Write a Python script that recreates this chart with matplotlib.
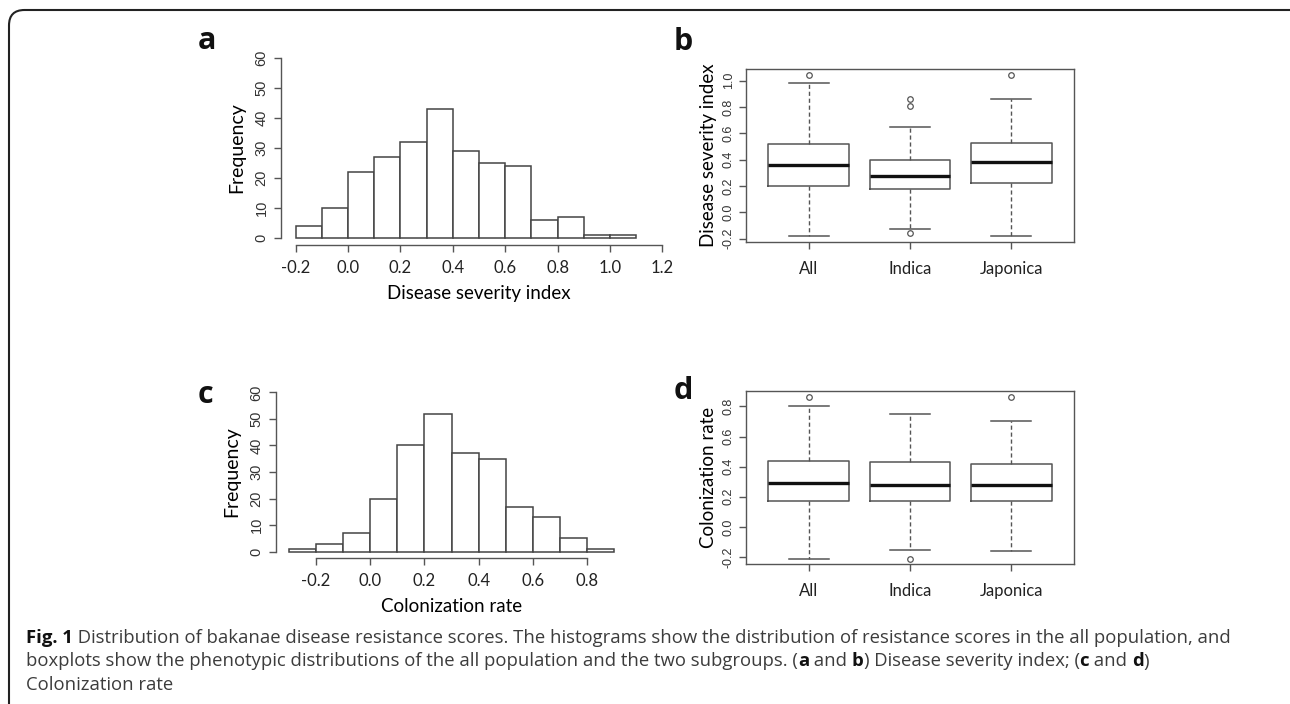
import matplotlib
matplotlib.use("Agg")
import matplotlib.pyplot as plt
from matplotlib.patches import FancyBboxPatch

# ---- data ----
dsi_edges = [-0.2, -0.1, 0.0, 0.1, 0.2, 0.3, 0.4, 0.5, 0.6, 0.7, 0.8, 0.9, 1.0, 1.1]
dsi_counts = [4, 10, 22, 27, 32, 43, 29, 25, 24, 6, 7, 1, 1]
dsi_xticks = [-0.2, 0.0, 0.2, 0.4, 0.6, 0.8, 1.0, 1.2]

col_edges = [-0.3, -0.2, -0.1, 0.0, 0.1, 0.2, 0.3, 0.4, 0.5, 0.6, 0.7, 0.8, 0.9]
col_counts = [1, 3, 7, 20, 40, 52, 37, 35, 17, 13, 5, 1]
col_xticks = [-0.2, 0.0, 0.2, 0.4, 0.6, 0.8]

freq_ticks = [0, 10, 20, 30, 40, 50, 60]

groups = ["All", "Indica", "Japonica"]
# whislo, q1, med, q3, whishi, fliers
dsi_box = [(-0.18, 0.20, 0.36, 0.52, 0.98, [1.04]),
           (-0.13, 0.18, 0.28, 0.40, 0.65, [0.81, 0.86, -0.16]),
           (-0.18, 0.22, 0.38, 0.525, 0.86, [1.04])]
col_box = [(-0.21, 0.175, 0.29, 0.435, 0.80, [0.86]),
           (-0.15, 0.175, 0.275, 0.43, 0.75, [-0.21]),
           (-0.16, 0.17, 0.28, 0.415, 0.70, [0.86])]
box_yticks_dsi = [-0.2, 0.0, 0.2, 0.4, 0.6, 0.8, 1.0]
box_yticks_col = [-0.2, 0.0, 0.2, 0.4, 0.6, 0.8]

caption_lines = [
    [("Fig. 1", True), (" Distribution of bakanae disease resistance scores. The histograms show the distribution of resistance scores in the all population, and", False)],
    [("boxplots show the phenotypic distributions of the all population and the two subgroups. (", False), ("a", True), (" and ", False),
     ("b", True), (") Disease severity index; (", False), ("c", True), (" and ", False), ("d", True), (")", False)],
    [("Colonization rate", False)],
]

W, H = 1290, 704
fig = plt.figure(figsize=(W / 100, H / 100), dpi=100)
LBL = ["Lato", "DejaVu Sans"]
TCK = ["Liberation Sans", "DejaVu Sans"]
GRAY = "#555555"


def px_axes(l, r, t, b):
    return fig.add_axes([l / W, 1 - b / H, (r - l) / W, (b - t) / H])


def histogram(ax, edges, counts, xticks, xlim, xlabel):
    ax.bar(edges[:-1], counts, width=[e2 - e1 for e1, e2 in zip(edges[:-1], edges[1:])],
           align="edge", color="white", edgecolor="#444444", linewidth=1.1)
    ax.set_xlim(*xlim)
    ax.set_ylim(-2.4, 62.4)
    for s in ["top", "right"]:
        ax.spines[s].set_visible(False)
    for s in ["left", "bottom"]:
        ax.spines[s].set_color(GRAY)
        ax.spines[s].set_linewidth(1.0)
    ax.spines["left"].set_bounds(0, 60)
    ax.spines["bottom"].set_bounds(xticks[0], xticks[-1])
    ax.set_xticks(xticks)
    ax.set_xticklabels([f"{v:.1f}" for v in xticks], fontsize=12, family=LBL, color="#222222")
    ax.set_yticks(freq_ticks)
    ax.set_yticklabels([str(v) for v in freq_ticks], rotation=90, va="center",
                       fontsize=10.5, family=TCK, color="#333333")
    ax.tick_params(axis="both", length=5, color=GRAY, width=1.0)
    ax.tick_params(axis="x", pad=6)
    ax.tick_params(axis="y", pad=4)
    ax.set_ylabel("Frequency", fontsize=14, family=LBL, labelpad=7)
    ax.set_xlabel(xlabel, fontsize=13.5, family=LBL, labelpad=6)


def boxplot(ax, box, yticks, ylim, ylabel):
    stats = [dict(whislo=b[0], q1=b[1], med=b[2], q3=b[3], whishi=b[4], fliers=b[5]) for b in box]
    ax.bxp(stats, positions=[1, 2, 3], widths=0.8, capwidths=0.4,
           boxprops=dict(color=GRAY, linewidth=1.1),
           medianprops=dict(color="#111111", linewidth=2.4),
           whiskerprops=dict(color=GRAY, linewidth=1.0, linestyle=(0, (3, 2))),
           capprops=dict(color=GRAY, linewidth=1.1),
           flierprops=dict(marker="o", markersize=4, markerfacecolor="none",
                           markeredgecolor=GRAY, markeredgewidth=0.9))
    ax.set_xlim(0.38, 3.62)
    ax.set_ylim(*ylim)
    for s in ax.spines.values():
        s.set_color(GRAY)
        s.set_linewidth(1.0)
    ax.set_xticks([1, 2, 3])
    ax.set_xticklabels(groups, fontsize=12, family=LBL, color="#222222")
    ax.set_yticks(yticks)
    ax.set_yticklabels([f"{v:.1f}" for v in yticks], rotation=90, va="center",
                       fontsize=9, family=TCK, color="#333333")
    ax.tick_params(axis="both", length=5, color=GRAY, width=1.0)
    ax.tick_params(axis="x", pad=9)
    ax.tick_params(axis="y", pad=3)
    ax.set_ylabel(ylabel, fontsize=13.5, family=LBL, labelpad=4)


ax_a = px_axes(281, 677, 51, 245)
histogram(ax_a, dsi_edges, dsi_counts, dsi_xticks, (-0.256, 1.256), "Disease severity index")
ax_c = px_axes(276, 627, 386, 558)
histogram(ax_c, col_edges, col_counts, col_xticks, (-0.348, 0.948), "Colonization rate")
ax_b = px_axes(746, 1074, 69, 242)
boxplot(ax_b, dsi_box, box_yticks_dsi, (-0.225, 1.089), "Disease severity index")
ax_d = px_axes(746, 1074, 391, 564)
boxplot(ax_d, col_box, box_yticks_col, (-0.246, 0.902), "Colonization rate")

for letter, x, y in [("a", 207, 41), ("b", 683, 42), ("c", 205, 395), ("d", 683, 391)]:
    fig.text(x / W, 1 - y / H, letter, fontsize=22, fontweight="bold", family=["Open Sans", "DejaVu Sans"],
             ha="center", va="center", color="#111111")

# figure frame (rounded, runs off the right and bottom edges)
frame = FancyBboxPatch((9 / W, -0.05), 1.1, 1 - 10 / H + 0.05, boxstyle="round,pad=0,rounding_size=0.012",
                       transform=fig.transFigure, facecolor="none", edgecolor="#222222", linewidth=1.5,
                       mutation_aspect=W / H)
fig.patches.append(frame)

# caption, piece by piece so bold runs sit inline
renderer = fig.canvas.get_renderer()
cap_font = ["Open Sans", "DejaVu Sans"]
y = 643
for line in caption_lines:
    x = 26
    for txt, bold in line:
        t = fig.text(x / W, 1 - y / H, txt, fontsize=13.3, family=cap_font,
                     fontweight="bold" if bold else "normal",
                     color="#111111" if bold else "#3c3c3c", ha="left", va="baseline")
        bb = t.get_window_extent(renderer=renderer)
        x += bb.width
    y += 23.5

fig.savefig("out.png", dpi=100)
